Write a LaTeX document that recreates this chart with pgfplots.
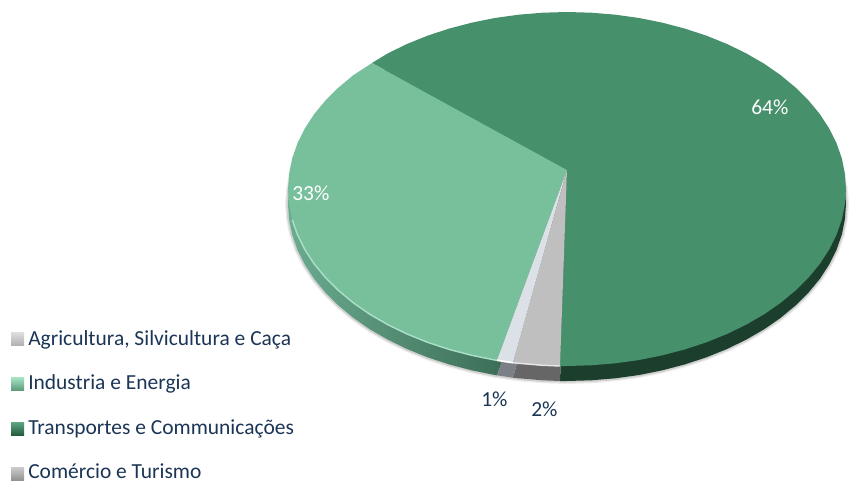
\documentclass[border=0pt]{standalone}
\usepackage{pgfplots}
\usepackage{pgfplotstable}
\usepackage{fontspec}
\setmainfont{Carlito}
\pgfplotsset{compat=1.18}
\definecolor{dgreen}{HTML}{46906B}
\definecolor{lgreen}{HTML}{78BF9B}
\definecolor{wslice}{HTML}{DBE1E6}
\definecolor{gslice}{HTML}{BFBFBF}
\definecolor{dgside}{HTML}{1C3E2D}
\definecolor{gside}{HTML}{666666}
\definecolor{wside}{HTML}{7B8087}
\definecolor{navy}{HTML}{1B3556}
\definecolor{HTMLlg}{HTML}{6AAC8F}
\definecolor{HTMLld}{HTML}{2F5A47}
\definecolor{HTMLrim}{HTML}{A9DFC6}
\definecolor{HTMLsa}{HTML}{A8E6C6}
\definecolor{HTMLsb}{HTML}{5E9C7E}
\definecolor{HTMLsc}{HTML}{5FA883}
\definecolor{HTMLsd}{HTML}{245C41}
% top faces: apex and rim points in picture pixels
\pgfplotstableread{
x y
567 170
372 63
387.7 53.4
407.0 44.0
427.5 35.7
449.1 28.6
471.6 22.7
494.8 18.0
518.6 14.7
542.7 12.7
567 12
591.3 12.7
615.4 14.7
639.2 18.0
662.4 22.7
684.9 28.6
706.5 35.7
727.0 44.0
746.3 53.4
764.3 63.8
780.7 75.2
795.5 87.5
808.6 100.5
819.9 114.2
829.2 128.5
836.5 143.2
841.8 158.3
844.9 173.6
846 189
844.9 204.4
841.8 219.7
836.5 234.8
829.2 249.5
819.9 263.8
808.6 277.5
795.5 290.5
780.7 302.8
764.3 314.2
746.3 324.6
727.0 334.0
706.5 342.3
684.9 349.4
662.4 355.3
639.2 360.0
615.4 363.3
591.3 365.3
567 366
560 366
}\sliceT
\pgfplotstableread{
x y
567 170
372 63
353.3 75.2
338.5 87.5
325.4 100.5
314.1 114.2
304.8 128.5
297.5 143.2
292.2 158.3
289.1 173.6
288 189
289.1 204.4
292.2 219.7
297.5 234.8
304.8 249.5
314.1 263.8
325.4 277.5
338.5 290.5
353.3 302.8
369.7 314.2
387.7 324.6
407.0 334.0
427.5 342.3
449.1 349.4
471.6 355.3
494.8 360.0
497 360.3
}\sliceI
\pgfplotstableread{
x y
567 170
497 360.3
513 362.7
}\sliceW
\pgfplotstableread{
x y
567 170
513 362.7
518.6 363.3
542.7 365.3
560 366
}\sliceG
\pgfplotstableread{
x y
292.2 219.7
297.5 234.8
304.8 249.5
314.1 263.8
325.4 277.5
338.5 290.5
353.3 302.8
369.7 314.2
387.7 324.6
407.0 334.0
427.5 342.3
449.1 349.4
471.6 355.3
494.8 360.0
497 360.3
}\rimI
\pgfplotstableread{
x y
836.5 143.2
841.8 158.3
844.9 173.6
846 189
844.9 204.4
841.8 219.7
836.5 234.8
829.2 249.5
819.9 263.8
808.6 277.5
795.5 290.5
780.7 302.8
764.3 314.2
746.3 324.6
727.0 334.0
706.5 342.3
684.9 349.4
662.4 355.3
639.2 360.0
615.4 363.3
591.3 365.3
567 366
542.7 365.3
518.6 363.3
494.8 360.0
471.6 355.3
449.1 349.4
427.5 342.3
407.0 334.0
387.7 324.6
369.7 314.2
353.3 302.8
338.5 290.5
325.4 277.5
314.1 263.8
304.8 249.5
297.5 234.8
292.2 219.7
289.1 204.4
288 189
289.1 173.6
292.2 158.3
}\shadowrim
\begin{document}
\begin{tikzpicture}
\begin{axis}[
  scale only axis, width=637.5pt, height=360.75pt,
  xmin=0, xmax=850, ymin=0, ymax=481, y dir=reverse,
  hide axis, clip=false,
]
\addplot[draw=none, forget plot] coordinates {(0,0) (850,481)};
% soft shadow
\addplot[draw=black, opacity=.07, line width=4.5pt, line join=round] table[x=x, y expr=\thisrow{y}+15] {\shadowrim};
\addplot[draw=black, opacity=.12, line width=2.6pt, line join=round] table[x=x, y expr=\thisrow{y}+15] {\shadowrim};
% side wall
\addplot[draw=none, fill=dgside] table[x=x, y expr=\thisrow{y}+15] {\sliceT};
\addplot[draw=none, left color=HTMLlg, right color=HTMLld] table[x=x, y expr=\thisrow{y}+15] {\sliceI};
\addplot[draw=none, fill=wside] table[x=x, y expr=\thisrow{y}+15] {\sliceW};
\addplot[draw=none, fill=gside] table[x=x, y expr=\thisrow{y}+15] {\sliceG};
% top faces
\addplot[draw=none, fill=dgreen] table {\sliceT};
\addplot[draw=none, fill=lgreen] table {\sliceI};
\addplot[draw=none, fill=wslice] table {\sliceW};
\addplot[draw=none, fill=gslice] table {\sliceG};
\addplot[draw=HTMLrim, line width=1.1pt] table {\rimI};
\addplot[draw=white, line width=1.3pt] coordinates {(497,360.3) (513,362.7)};
\addplot[draw=gray!20, line width=1.1pt] coordinates {(513,362.7) (518.6,363.3) (542.7,365.3) (560,366)};
% legend swatches
\addplot[draw=none, top color=gray!25, bottom color=gray!60] coordinates {(11,332) (24,332) (24,345) (11,345)};
\addplot[draw=none, top color=HTMLsa, bottom color=HTMLsb] coordinates {(11,377) (24,377) (24,390) (11,390)};
\addplot[draw=none, top color=HTMLsc, bottom color=HTMLsd] coordinates {(11,422) (24,422) (24,435) (11,435)};
\addplot[draw=none, top color=gray!40, bottom color=gray!85] coordinates {(11,467) (24,467) (24,480) (11,480)};
% texts
\begin{scope}[every node/.style={font=\fontsize{16.1pt}{18pt}\selectfont, text=navy, inner sep=0pt, anchor=base west}]
\node at (axis cs:28,345) {Agricultura, Silvicultura e Caça};
\node at (axis cs:28,389) {Industria e Energia};
\node at (axis cs:28,434) {Transportes e Communicações};
\node at (axis cs:28,478) {Comércio e Turismo};
\node at (axis cs:481,406) {1\%};
\node at (axis cs:531,416) {2\%};
\node[text=white] at (axis cs:751,115) {64\%};
\node[text=white] at (axis cs:292,201) {33\%};
\end{scope}
\end{axis}
\end{tikzpicture}
\end{document}
